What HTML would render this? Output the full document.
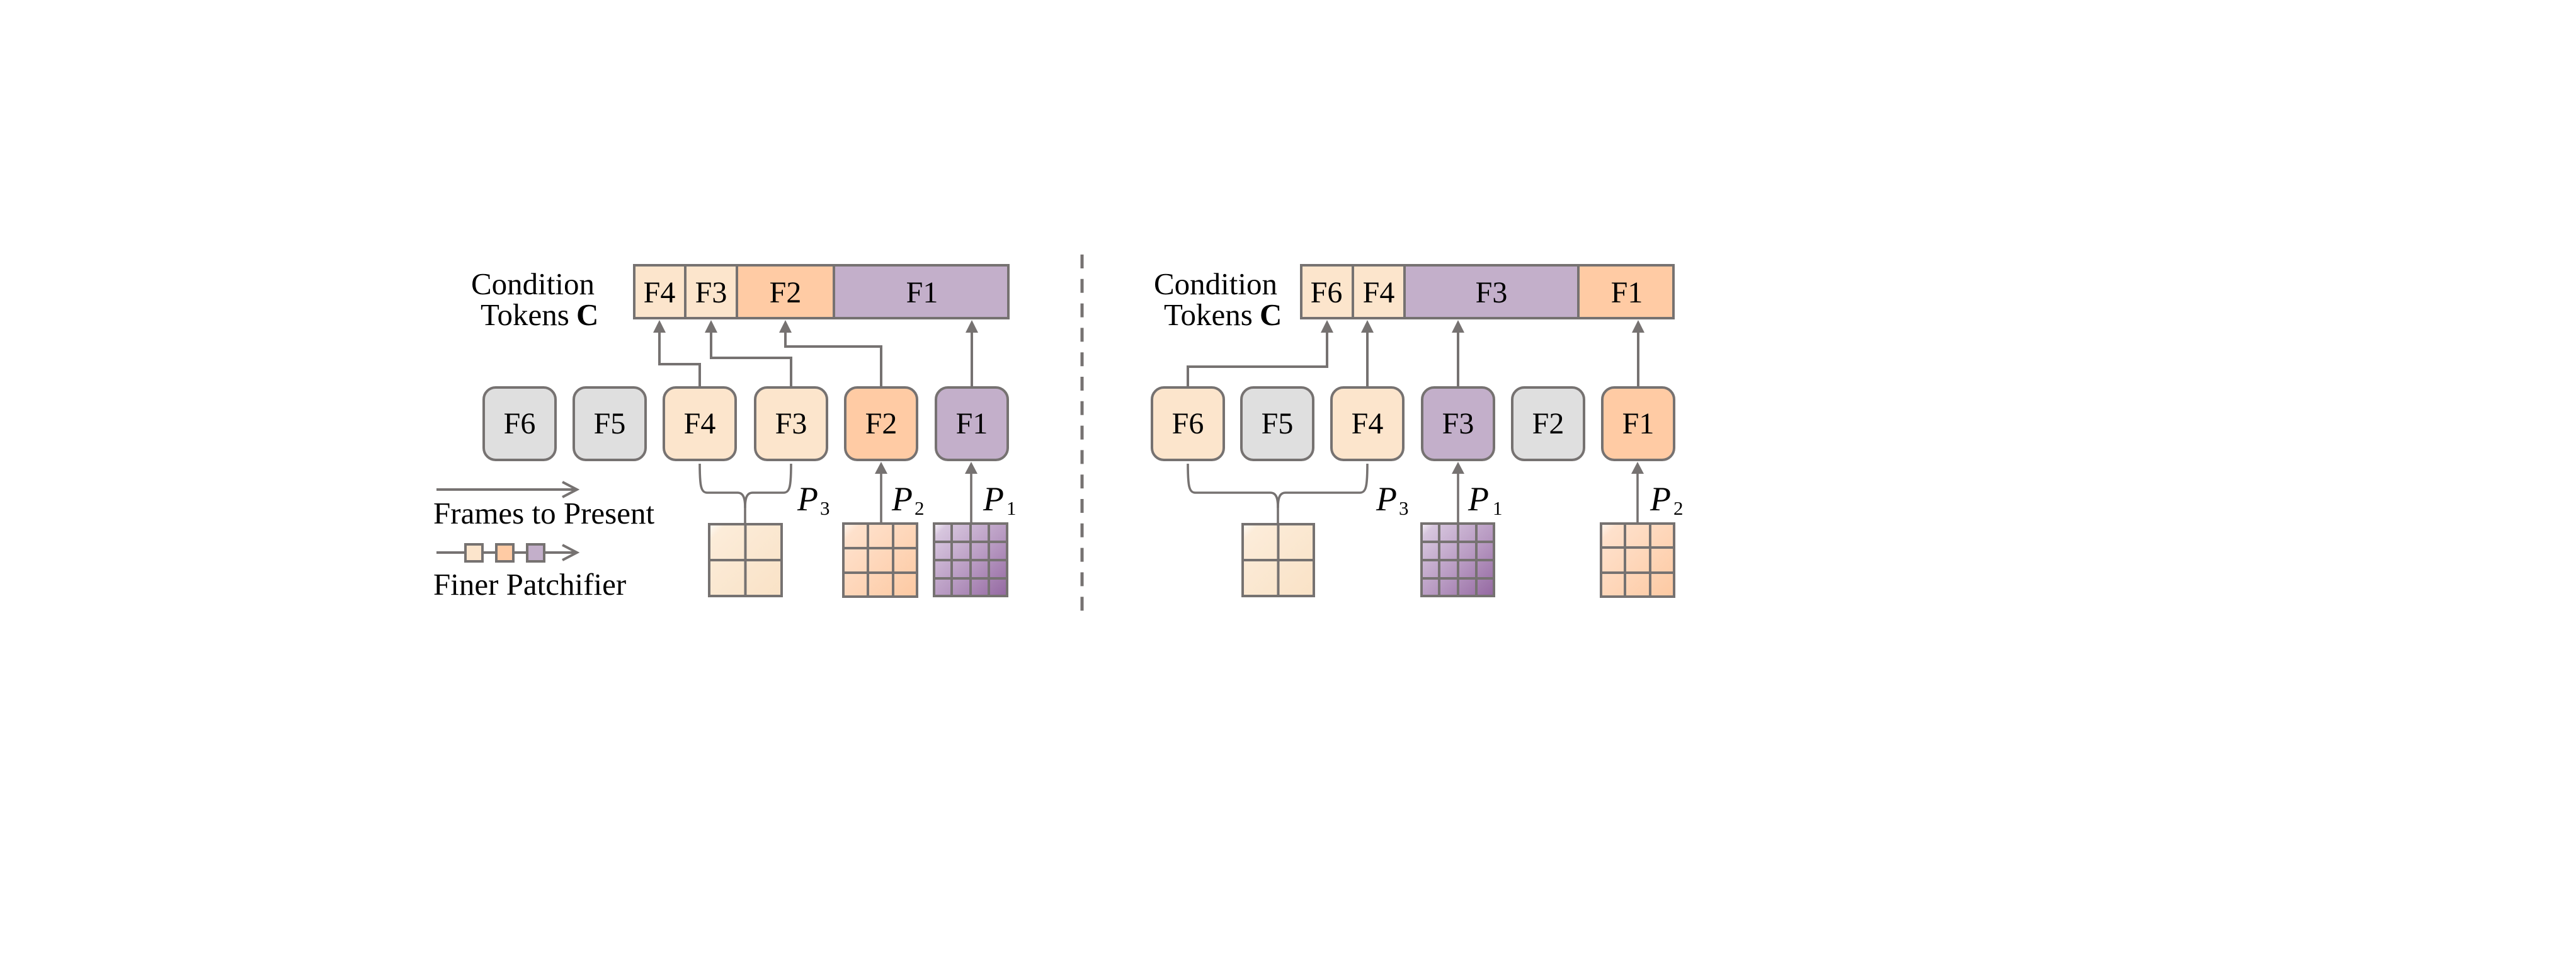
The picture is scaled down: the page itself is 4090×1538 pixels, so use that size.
<!DOCTYPE html>
<html>
<head>
<meta charset="utf-8">
<style>
  html, body { margin:0; padding:0; background:#ffffff; }
  body { width:4090px; height:1538px; overflow:hidden; }
  svg { display:block; }
  text { font-family: "Liberation Serif", "Times New Roman", serif; fill:#000; }
</style>
</head>
<body>
<svg width="4090" height="1538" viewBox="0 0 4090 1538" xmlns="http://www.w3.org/2000/svg">
  <defs>
    <linearGradient id="gPeach" x1="0" y1="0" x2="1" y2="1">
      <stop offset="0" stop-color="#fffcf8"/>
      <stop offset="0.12" stop-color="#fcecd9"/>
      <stop offset="1" stop-color="#f9e2c6"/>
    </linearGradient>
    <linearGradient id="gOrange" x1="0" y1="0" x2="1" y2="1">
      <stop offset="0" stop-color="#fff6ef"/>
      <stop offset="0.12" stop-color="#fee1cc"/>
      <stop offset="1" stop-color="#fdc9a2"/>
    </linearGradient>
    <linearGradient id="gPurple" x1="0" y1="0" x2="1" y2="1">
      <stop offset="0" stop-color="#f6f2f8"/>
      <stop offset="0.1" stop-color="#d7c6de"/>
      <stop offset="0.55" stop-color="#b89ac2"/>
      <stop offset="1" stop-color="#9468a1"/>
    </linearGradient>
  </defs>

  <!-- ================= LEFT PANEL ================= -->
  <text x="748" y="467" font-size="49">Condition</text>
  <text x="763" y="516" font-size="49">Tokens</text>
  <text x="915" y="516" font-size="49" font-weight="bold">C</text>

  <!-- token bar -->
  <rect x="1005" y="419" width="83" height="88" fill="#FCE5CC"/>
  <rect x="1088" y="419" width="82" height="88" fill="#FCE5CC"/>
  <rect x="1170" y="419" width="154" height="88" fill="#FFCBA4"/>
  <rect x="1324" y="419" width="279" height="88" fill="#C3AFCA"/>
  <g stroke="#767271" stroke-width="4" fill="none">
    <line x1="1088" y1="419" x2="1088" y2="507"/>
    <line x1="1170" y1="419" x2="1170" y2="507"/>
    <line x1="1324" y1="419" x2="1324" y2="507"/>
    <rect x="1007" y="421" width="594" height="84"/>
  </g>
  <g font-size="48" text-anchor="middle">
    <text x="1047" y="480">F4</text>
    <text x="1129" y="480">F3</text>
    <text x="1247" y="480">F2</text>
    <text x="1464" y="480">F1</text>
  </g>

  <!-- frame boxes -->
  <g stroke="#767271" stroke-width="4">
    <rect x="768" y="615" width="114" height="115" rx="19" fill="#DFDFDF"/>
    <rect x="911" y="615" width="114" height="115" rx="19" fill="#DFDFDF"/>
    <rect x="1054" y="615" width="114" height="115" rx="19" fill="#FCE5CC"/>
    <rect x="1199" y="615" width="114" height="115" rx="19" fill="#FCE5CC"/>
    <rect x="1342" y="615" width="114" height="115" rx="19" fill="#FFCBA4"/>
    <rect x="1486" y="615" width="114" height="115" rx="19" fill="#C3AFCA"/>
  </g>
  <g font-size="48" text-anchor="middle">
    <text x="825" y="688">F6</text>
    <text x="968" y="688">F5</text>
    <text x="1111" y="688">F4</text>
    <text x="1256" y="688">F3</text>
    <text x="1399" y="688">F2</text>
    <text x="1543" y="688">F1</text>
  </g>

  <!-- connectors up to bar -->
  <g stroke="#767271" stroke-width="4" fill="none">
    <path d="M1111,613 V578 H1047 V524"/>
    <path d="M1256,613 V568 H1129 V524"/>
    <path d="M1399,613 V550 H1247 V524"/>
    <path d="M1543,613 V524"/>
  </g>
  <g fill="#767271">
    <polygon points="1037,528 1057,528 1047,508"/>
    <polygon points="1119,528 1139,528 1129,508"/>
    <polygon points="1237,528 1257,528 1247,508"/>
    <polygon points="1533,528 1553,528 1543,508"/>
  </g>

  <!-- bottom connectors -->
  <g stroke="#767271" stroke-width="3.6" fill="none">
    <path d="M1111,736 C1111,772 1113,782 1123,782 L1171,782 C1180,782 1183,790 1183,806 L1183,831"/>
    <path d="M1256,736 C1256,772 1254,782 1244,782 L1195,782 C1186,782 1183,790 1183,806"/>
    <path d="M1399,830 V748"/>
    <path d="M1542,830 V748"/>
  </g>
  <g fill="#767271">
    <polygon points="1389,752 1409,752 1399,733"/>
    <polygon points="1532,752 1552,752 1542,733"/>
  </g>

  <!-- grids left -->
  <g stroke="#767271" stroke-width="4">
    <rect x="1126" y="832" width="115" height="114" fill="url(#gPeach)"/>
    <line x1="1183.5" y1="832" x2="1183.5" y2="946"/>
    <line x1="1126" y1="889" x2="1241" y2="889"/>

    <rect x="1339" y="831" width="117" height="116" fill="url(#gOrange)"/>
    <line x1="1378" y1="831" x2="1378" y2="947"/>
    <line x1="1418" y1="831" x2="1418" y2="947"/>
    <line x1="1339" y1="870" x2="1456" y2="870"/>
    <line x1="1339" y1="909" x2="1456" y2="909"/>

    <rect x="1483" y="831" width="116" height="115" fill="url(#gPurple)"/>
    <line x1="1511" y1="831" x2="1511" y2="946"/>
    <line x1="1541" y1="831" x2="1541" y2="946"/>
    <line x1="1570" y1="831" x2="1570" y2="946"/>
    <line x1="1483" y1="860" x2="1599" y2="860"/>
    <line x1="1483" y1="889" x2="1599" y2="889"/>
    <line x1="1483" y1="918" x2="1599" y2="918"/>
  </g>

  <!-- P labels left -->
  <text x="1266" y="810" font-size="54" font-style="italic">P</text>
  <text x="1302" y="817" font-size="31">3</text>
  <text x="1416" y="810" font-size="54" font-style="italic">P</text>
  <text x="1452" y="817" font-size="31">2</text>
  <text x="1561" y="810" font-size="54" font-style="italic">P</text>
  <text x="1598" y="817" font-size="31">1</text>

  <!-- legend -->
  <g stroke="#767271" stroke-width="4" fill="none">
    <line x1="693" y1="777" x2="915" y2="777"/>
    <polyline points="893,765 916,777 893,789"/>
    <line x1="693" y1="877" x2="915" y2="877"/>
    <polyline points="893,865 916,877 893,889"/>
  </g>
  <g stroke="#767271" stroke-width="4">
    <rect x="739" y="864" width="27" height="27" fill="#FCE5CC"/>
    <rect x="788" y="864" width="27" height="27" fill="#FFCBA4"/>
    <rect x="837" y="864" width="27" height="27" fill="#C3AFCA"/>
  </g>
  <text x="688" y="831" font-size="49">Frames to Present</text>
  <text x="688" y="944" font-size="49">Finer Patchifier</text>

  <!-- dashed separator -->
  <line x1="1718" y1="404" x2="1718" y2="971" stroke="#767271" stroke-width="5" stroke-dasharray="22 16.8"/>

  <!-- ================= RIGHT PANEL ================= -->
  <text x="1832" y="467" font-size="49">Condition</text>
  <text x="1848" y="516" font-size="49">Tokens</text>
  <text x="2000" y="516" font-size="49" font-weight="bold">C</text>

  <rect x="2064" y="419" width="84" height="88" fill="#FCE5CC"/>
  <rect x="2148" y="419" width="82" height="88" fill="#FCE5CC"/>
  <rect x="2230" y="419" width="276" height="88" fill="#C3AFCA"/>
  <rect x="2506" y="419" width="153" height="88" fill="#FFCBA4"/>
  <g stroke="#767271" stroke-width="4" fill="none">
    <line x1="2148" y1="419" x2="2148" y2="507"/>
    <line x1="2230" y1="419" x2="2230" y2="507"/>
    <line x1="2506" y1="419" x2="2506" y2="507"/>
    <rect x="2066" y="421" width="591" height="84"/>
  </g>
  <g font-size="48" text-anchor="middle">
    <text x="2106" y="480">F6</text>
    <text x="2189" y="480">F4</text>
    <text x="2368" y="480">F3</text>
    <text x="2583" y="480">F1</text>
  </g>

  <g stroke="#767271" stroke-width="4">
    <rect x="1829" y="615" width="114" height="115" rx="19" fill="#FCE5CC"/>
    <rect x="1971" y="615" width="114" height="115" rx="19" fill="#DFDFDF"/>
    <rect x="2114" y="615" width="114" height="115" rx="19" fill="#FCE5CC"/>
    <rect x="2258" y="615" width="114" height="115" rx="19" fill="#C3AFCA"/>
    <rect x="2401" y="615" width="114" height="115" rx="19" fill="#DFDFDF"/>
    <rect x="2544" y="615" width="114" height="115" rx="19" fill="#FFCBA4"/>
  </g>
  <g font-size="48" text-anchor="middle">
    <text x="1886" y="688">F6</text>
    <text x="2028" y="688">F5</text>
    <text x="2171" y="688">F4</text>
    <text x="2315" y="688">F3</text>
    <text x="2458" y="688">F2</text>
    <text x="2601" y="688">F1</text>
  </g>

  <g stroke="#767271" stroke-width="4" fill="none">
    <path d="M1886,613 V582 H2107 V524"/>
    <path d="M2171,613 V524"/>
    <path d="M2315,613 V524"/>
    <path d="M2601,613 V524"/>
  </g>
  <g fill="#767271">
    <polygon points="2097,528 2117,528 2107,508"/>
    <polygon points="2161,528 2181,528 2171,508"/>
    <polygon points="2305,528 2325,528 2315,508"/>
    <polygon points="2591,528 2611,528 2601,508"/>
  </g>

  <g stroke="#767271" stroke-width="3.6" fill="none">
    <path d="M1886,736 C1886,772 1888,782 1898,782 L2017,782 C2026,782 2029,790 2029,806 L2029,831"/>
    <path d="M2171,736 C2171,772 2169,782 2159,782 L2041,782 C2032,782 2029,790 2029,806"/>
    <path d="M2315,829 V748"/>
    <path d="M2600,829 V748"/>
  </g>
  <g fill="#767271">
    <polygon points="2305,752 2325,752 2315,733"/>
    <polygon points="2590,752 2610,752 2600,733"/>
  </g>

  <g stroke="#767271" stroke-width="4">
    <rect x="1973" y="832" width="113" height="114" fill="url(#gPeach)"/>
    <line x1="2029.5" y1="832" x2="2029.5" y2="946"/>
    <line x1="1973" y1="889" x2="2086" y2="889"/>

    <rect x="2257" y="831" width="115" height="115" fill="url(#gPurple)"/>
    <line x1="2285" y1="831" x2="2285" y2="946"/>
    <line x1="2315" y1="831" x2="2315" y2="946"/>
    <line x1="2344" y1="831" x2="2344" y2="946"/>
    <line x1="2257" y1="860" x2="2372" y2="860"/>
    <line x1="2257" y1="889" x2="2372" y2="889"/>
    <line x1="2257" y1="918" x2="2372" y2="918"/>

    <rect x="2542" y="831" width="116" height="116" fill="url(#gOrange)"/>
    <line x1="2580" y1="831" x2="2580" y2="947"/>
    <line x1="2620" y1="831" x2="2620" y2="947"/>
    <line x1="2542" y1="869" x2="2658" y2="869"/>
    <line x1="2542" y1="909" x2="2658" y2="909"/>
  </g>

  <text x="2185" y="810" font-size="54" font-style="italic">P</text>
  <text x="2221" y="817" font-size="31">3</text>
  <text x="2331" y="810" font-size="54" font-style="italic">P</text>
  <text x="2370" y="817" font-size="31">1</text>
  <text x="2620" y="810" font-size="54" font-style="italic">P</text>
  <text x="2657" y="817" font-size="31">2</text>
</svg>
</body>
</html>
